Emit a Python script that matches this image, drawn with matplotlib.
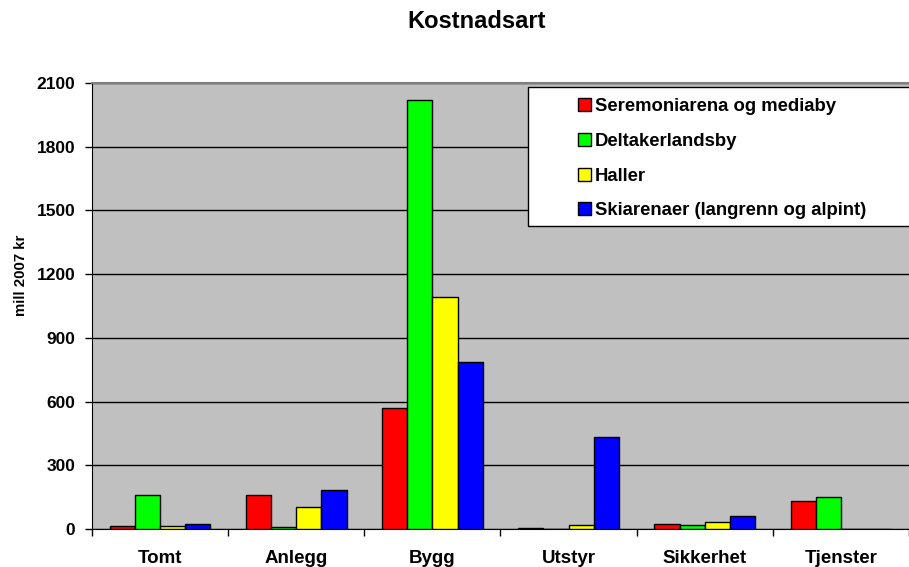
import matplotlib
matplotlib.use("Agg")
import matplotlib.pyplot as plt
from matplotlib.patches import Rectangle
import numpy as np

plt.rcParams['font.family'] = ['Liberation Sans', 'DejaVu Sans']

categories = ["Tomt", "Anlegg", "Bygg", "Utstyr", "Sikkerhet", "Tjenster"]
series_names = ["Seremoniarena og mediaby", "Deltakerlandsby", "Haller",
                "Skiarenaer (langrenn og alpint)"]
seremoniarena = [12, 160, 572, 4, 24, 130]
deltakerlandsby = [159, 10, 2022, 0, 18, 150]
haller = [16, 102, 1094, 17, 32, 0]
skiarenaer = [22, 182, 788, 435, 60, 0]
colors = ["#FF0000", "#00FF00", "#FFFF00", "#0000FF"]
yticks = [0, 300, 600, 900, 1200, 1500, 1800, 2100]

fig = plt.figure(figsize=(9.09, 5.67), dpi=100)
ax = fig.add_axes([92/909, 1-529/567, 817/909, (529-83)/567])
ax.set_facecolor("#C0C0C0")

x = np.arange(len(categories))
w = 0.185
data = [seremoniarena, deltakerlandsby, haller, skiarenaer]
for i, (vals, c, name) in enumerate(zip(data, colors, series_names)):
    ax.bar(x + (i - 1.5) * w, vals, width=w, color=c, edgecolor="black",
           linewidth=1.0, label=name, zorder=3)

ax.set_xlim(-0.5, len(categories) - 0.5)
ax.set_ylim(0, 2100)
ax.set_yticks(yticks)
ax.set_yticklabels([str(t) for t in yticks], fontsize=12.5, fontweight="bold")
ax.yaxis.grid(True, color="black", linewidth=1.0, zorder=1)
ax.set_axisbelow(True)

ax.set_xticks(np.arange(len(categories) + 1) - 0.5)
ax.set_xticklabels([])
ax.set_xticks(x, minor=True)
ax.set_xticklabels(categories, minor=True, fontsize=13.5, fontweight="bold")
ax.tick_params(axis="x", which="minor", length=0, pad=15)
ax.tick_params(axis="x", which="major", length=5, width=1, direction="out")
ax.tick_params(axis="y", length=5, width=1, direction="out", pad=7)

ax.spines["top"].set_color("#808080")
ax.spines["top"].set_linewidth(1.5)
ax.spines["right"].set_visible(False)
ax.spines["left"].set_color("black")
ax.spines["bottom"].set_color("black")

ax.set_ylabel("mill 2007 kr", fontsize=10.8, fontweight="bold")
ax.yaxis.set_label_coords(-0.078, 0.568)
fig.text(407/909, 1 - 22/567, "Kostnadsart", ha="left", va="center",
         fontsize=17, fontweight="bold")

# legend box
rect = Rectangle((0.534, 0.680), 0.47, 0.311, transform=ax.transAxes,
                 facecolor="white", edgecolor="black", linewidth=1.0,
                 zorder=4, clip_on=False)
ax.add_patch(rect)
leg = ax.legend(loc="upper left", bbox_to_anchor=(0.595, 0.966),
                frameon=False, prop={"weight": "bold", "size": 13.3},
                handlelength=0.7, handleheight=0.7, handletextpad=0.22,
                labelspacing=0.96, borderpad=0, borderaxespad=0)
leg.set_zorder(5)
for h in leg.legend_handles:
    h.set_linewidth(1.0)

fig.savefig("out.png", dpi=100)
